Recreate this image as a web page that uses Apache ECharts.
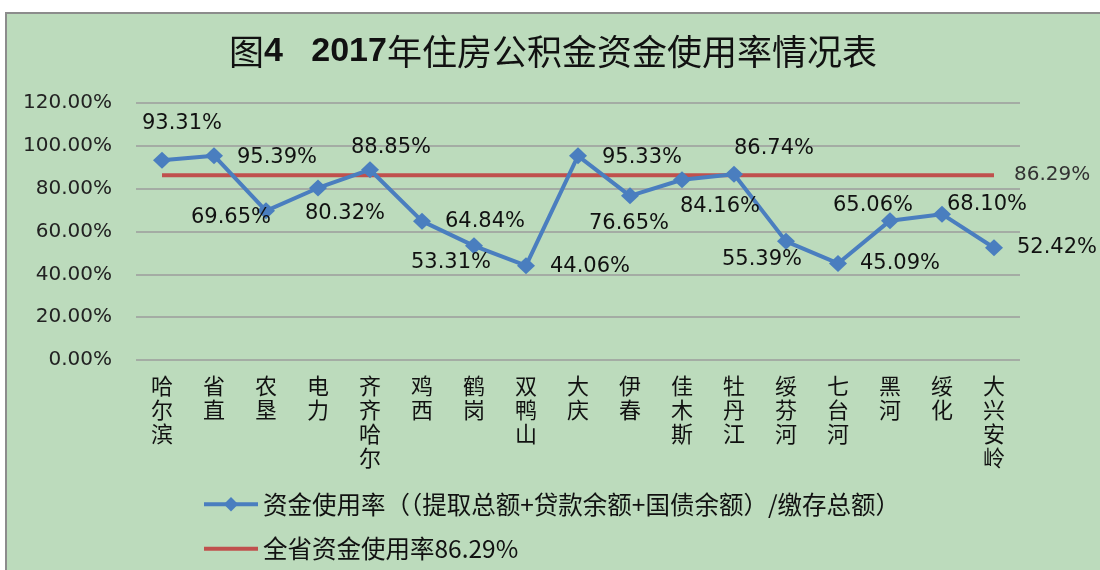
<!DOCTYPE html>
<html>
<head>
<meta charset="utf-8">
<script src="https://cdn.jsdelivr.net/npm/echarts@6/dist/echarts.min.js"></script>
<style>
html, body { margin: 0; padding: 0; background: #fff; }
#chart { width: 1100px; height: 570px; }
</style>
</head>
<body>
<div id="chart"></div>
<script>
// 数据
var cities = ['哈尔滨', '省直', '农垦', '电力', '齐齐哈尔', '鸡西', '鹤岗', '双鸭山', '大庆',
    '伊春', '佳木斯', '牡丹江', '绥芬河', '七台河', '黑河', '绥化', '大兴安岭'];
var useRate = [93.31, 95.39, 69.65, 80.32, 88.85, 64.84, 53.31, 44.06, 95.33,
    76.65, 84.16, 86.74, 55.39, 45.09, 65.06, 68.10, 52.42];
var provinceRate = 86.29;
var yTicks = [0, 20, 40, 60, 80, 100, 120];
var seriesNames = ['资金使用率（（提取总额+贷款余额+国债余额）/缴存总额）', '全省资金使用率86.29%'];

// 标签偏移（相对数据点）
var labelOffsets = [[20, -37], [63, 2], [-35, 7], [27, 26], [21, -22], [63, 0], [-23, 17], [64, 1], [64, 2],
    [-1, 28], [38, 27], [40, -26], [-24, 18], [62, 0], [-17, -15], [45, -10], [63, 0]];

var chart = echarts.init(document.getElementById('chart'));

var option = {
    backgroundColor: '#ffffff',
    animation: false,
    graphic: [{
        type: 'rect',
        z: -10,
        shape: { x: 6, y: 13, width: 1110, height: 580 },
        style: { fill: '#bcdbbc', stroke: '#8c8c8c', lineWidth: 2 }
    }],
    title: {
        left: 229,
        top: 32,
        padding: 0,
        text: '{a|图}{b|4   2017}{a|年住房公积金资金使用率情况表}',
        textStyle: {
            rich: {
                a: { fontFamily: 'Noto Sans CJK SC', fontWeight: 'normal', fontSize: 35, color: '#111', lineHeight: 40 },
                b: { fontFamily: 'Liberation Sans', fontWeight: 'bold', fontSize: 34, color: '#111', lineHeight: 40 }
            }
        }
    },
    legend: {
        orient: 'vertical',
        left: 197,
        top: 487,
        itemWidth: 54,
        itemHeight: 18,
        itemGap: 20,
        data: seriesNames,
        lineStyle: { width: 4 },
        textStyle: { fontFamily: 'Noto Sans CJK SC', fontSize: 24.5, lineHeight: 24, color: '#111' }
    },
    grid: { left: 136, right: 80, top: 103, bottom: 210 },
    xAxis: {
        type: 'category',
        data: cities,
        axisLine: { show: false },
        axisTick: { show: false },
        axisLabel: {
            interval: 0,
            margin: 14,
            fontFamily: 'Noto Sans CJK SC',
            fontSize: 22,
            lineHeight: 24,
            color: '#111',
            verticalAlign: 'top',
            formatter: function (v) { return v.split('').join('\n'); }
        }
    },
    yAxis: {
        type: 'value',
        min: yTicks[0],
        max: yTicks[yTicks.length - 1],
        interval: yTicks[1] - yTicks[0],
        axisLine: { show: false },
        axisTick: { show: false },
        splitLine: { lineStyle: { color: '#9c9c9c', width: 1.5 } },
        axisLabel: {
            margin: 24,
            fontFamily: 'DejaVu Sans',
            fontSize: 20,
            color: '#222',
            formatter: function (v) { return v.toFixed(2) + '%'; }
        }
    },
    series: [
        {
            name: seriesNames[0],
            type: 'line',
            z: 3,
            data: useRate.map(function (v, i) {
                return {
                    value: v,
                    label: { offset: labelOffsets[i] }
                };
            }),
            symbol: 'diamond',
            symbolSize: [18, 17],
            lineStyle: { color: '#4a7ebf', width: 4 },
            itemStyle: { color: '#4a7ebf' },
            label: {
                show: true,
                position: 'inside',
                align: 'center',
                verticalAlign: 'middle',
                fontFamily: 'DejaVu Sans',
                fontSize: 21,
                color: '#111',
                formatter: function (p) { return p.value.toFixed(2) + '%'; }
            }
        },
        {
            name: seriesNames[1],
            type: 'line',
            z: 2,
            data: cities.map(function () { return provinceRate; }),
            symbol: 'none',
            lineStyle: { color: '#c0504d', width: 4 },
            itemStyle: { color: 'rgba(0,0,0,0)' },
            endLabel: {
                show: true,
                distance: 20,
                fontFamily: 'DejaVu Sans',
                fontSize: 20,
                color: '#333',
                formatter: function (p) { return p.value.toFixed(2) + '%'; }
            }
        }
    ]
};

chart.setOption(option);
</script>
</body>
</html>
